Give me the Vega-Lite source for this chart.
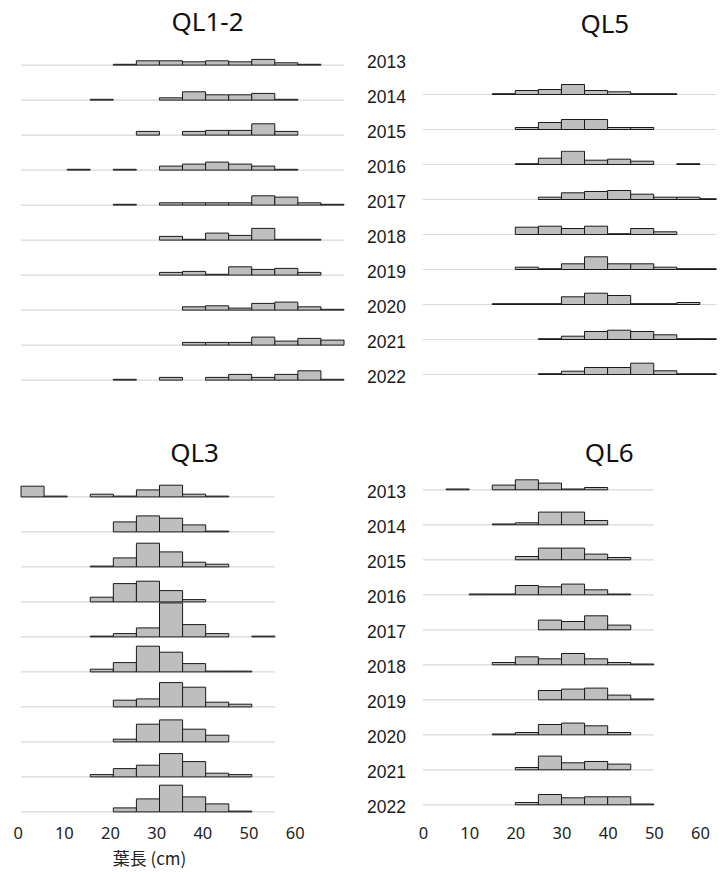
{
  "$schema": "https://vega.github.io/schema/vega-lite/v6.json",
  "padding": {"left": 12, "top": 9.5, "right": 0, "bottom": 3},
  "data": {"values": [
    {"panel":"QL1-2","year":"2013","lo":0,"hi":70},
    {"panel":"QL1-2","year":"2014","lo":0,"hi":70},
    {"panel":"QL1-2","year":"2015","lo":0,"hi":70},
    {"panel":"QL1-2","year":"2016","lo":0,"hi":70},
    {"panel":"QL1-2","year":"2017","lo":0,"hi":70},
    {"panel":"QL1-2","year":"2018","lo":0,"hi":70},
    {"panel":"QL1-2","year":"2019","lo":0,"hi":70},
    {"panel":"QL1-2","year":"2020","lo":0,"hi":70},
    {"panel":"QL1-2","year":"2021","lo":0,"hi":70},
    {"panel":"QL1-2","year":"2022","lo":0,"hi":70},
    {"panel":"QL1-2","year":"2013","bin_start":20,"bin_end":25,"freq":0.8},
    {"panel":"QL1-2","year":"2013","bin_start":25,"bin_end":30,"freq":4.3},
    {"panel":"QL1-2","year":"2013","bin_start":30,"bin_end":35,"freq":4.3},
    {"panel":"QL1-2","year":"2013","bin_start":35,"bin_end":40,"freq":3.3},
    {"panel":"QL1-2","year":"2013","bin_start":40,"bin_end":45,"freq":4.3},
    {"panel":"QL1-2","year":"2013","bin_start":45,"bin_end":50,"freq":3.3},
    {"panel":"QL1-2","year":"2013","bin_start":50,"bin_end":55,"freq":5.7},
    {"panel":"QL1-2","year":"2013","bin_start":55,"bin_end":60,"freq":2.3},
    {"panel":"QL1-2","year":"2013","bin_start":60,"bin_end":65,"freq":0.8},
    {"panel":"QL1-2","year":"2014","bin_start":15,"bin_end":20,"freq":0.8},
    {"panel":"QL1-2","year":"2014","bin_start":30,"bin_end":35,"freq":2.3},
    {"panel":"QL1-2","year":"2014","bin_start":35,"bin_end":40,"freq":8.3},
    {"panel":"QL1-2","year":"2014","bin_start":40,"bin_end":45,"freq":5.3},
    {"panel":"QL1-2","year":"2014","bin_start":45,"bin_end":50,"freq":5.3},
    {"panel":"QL1-2","year":"2014","bin_start":50,"bin_end":55,"freq":6.7},
    {"panel":"QL1-2","year":"2014","bin_start":55,"bin_end":60,"freq":0.8},
    {"panel":"QL1-2","year":"2015","bin_start":25,"bin_end":30,"freq":3.7},
    {"panel":"QL1-2","year":"2015","bin_start":35,"bin_end":40,"freq":3.7},
    {"panel":"QL1-2","year":"2015","bin_start":40,"bin_end":45,"freq":4.7},
    {"panel":"QL1-2","year":"2015","bin_start":45,"bin_end":50,"freq":4.7},
    {"panel":"QL1-2","year":"2015","bin_start":50,"bin_end":55,"freq":11.3},
    {"panel":"QL1-2","year":"2015","bin_start":55,"bin_end":60,"freq":3.7},
    {"panel":"QL1-2","year":"2016","bin_start":10,"bin_end":15,"freq":0.8},
    {"panel":"QL1-2","year":"2016","bin_start":20,"bin_end":25,"freq":0.8},
    {"panel":"QL1-2","year":"2016","bin_start":30,"bin_end":35,"freq":4},
    {"panel":"QL1-2","year":"2016","bin_start":35,"bin_end":40,"freq":6},
    {"panel":"QL1-2","year":"2016","bin_start":40,"bin_end":45,"freq":8},
    {"panel":"QL1-2","year":"2016","bin_start":45,"bin_end":50,"freq":6},
    {"panel":"QL1-2","year":"2016","bin_start":50,"bin_end":55,"freq":4},
    {"panel":"QL1-2","year":"2016","bin_start":55,"bin_end":60,"freq":0.8},
    {"panel":"QL1-2","year":"2017","bin_start":20,"bin_end":25,"freq":0.8},
    {"panel":"QL1-2","year":"2017","bin_start":30,"bin_end":35,"freq":2.3},
    {"panel":"QL1-2","year":"2017","bin_start":35,"bin_end":40,"freq":2.3},
    {"panel":"QL1-2","year":"2017","bin_start":40,"bin_end":45,"freq":2.3},
    {"panel":"QL1-2","year":"2017","bin_start":45,"bin_end":50,"freq":2.3},
    {"panel":"QL1-2","year":"2017","bin_start":50,"bin_end":55,"freq":9.3},
    {"panel":"QL1-2","year":"2017","bin_start":55,"bin_end":60,"freq":8},
    {"panel":"QL1-2","year":"2017","bin_start":60,"bin_end":65,"freq":2.3},
    {"panel":"QL1-2","year":"2017","bin_start":65,"bin_end":70,"freq":0.8},
    {"panel":"QL1-2","year":"2018","bin_start":30,"bin_end":35,"freq":3.7},
    {"panel":"QL1-2","year":"2018","bin_start":35,"bin_end":40,"freq":0.8},
    {"panel":"QL1-2","year":"2018","bin_start":40,"bin_end":45,"freq":7},
    {"panel":"QL1-2","year":"2018","bin_start":45,"bin_end":50,"freq":4.7},
    {"panel":"QL1-2","year":"2018","bin_start":50,"bin_end":55,"freq":11.7},
    {"panel":"QL1-2","year":"2018","bin_start":55,"bin_end":60,"freq":0.8},
    {"panel":"QL1-2","year":"2018","bin_start":60,"bin_end":65,"freq":0.8},
    {"panel":"QL1-2","year":"2019","bin_start":30,"bin_end":35,"freq":2.7},
    {"panel":"QL1-2","year":"2019","bin_start":35,"bin_end":40,"freq":3.7},
    {"panel":"QL1-2","year":"2019","bin_start":40,"bin_end":45,"freq":0.8},
    {"panel":"QL1-2","year":"2019","bin_start":45,"bin_end":50,"freq":8.3},
    {"panel":"QL1-2","year":"2019","bin_start":50,"bin_end":55,"freq":5.7},
    {"panel":"QL1-2","year":"2019","bin_start":55,"bin_end":60,"freq":6.7},
    {"panel":"QL1-2","year":"2019","bin_start":60,"bin_end":65,"freq":2.7},
    {"panel":"QL1-2","year":"2020","bin_start":35,"bin_end":40,"freq":3.3},
    {"panel":"QL1-2","year":"2020","bin_start":40,"bin_end":45,"freq":4.3},
    {"panel":"QL1-2","year":"2020","bin_start":45,"bin_end":50,"freq":2},
    {"panel":"QL1-2","year":"2020","bin_start":50,"bin_end":55,"freq":6.7},
    {"panel":"QL1-2","year":"2020","bin_start":55,"bin_end":60,"freq":8},
    {"panel":"QL1-2","year":"2020","bin_start":60,"bin_end":65,"freq":3.3},
    {"panel":"QL1-2","year":"2020","bin_start":65,"bin_end":70,"freq":0.8},
    {"panel":"QL1-2","year":"2021","bin_start":35,"bin_end":40,"freq":2.7},
    {"panel":"QL1-2","year":"2021","bin_start":40,"bin_end":45,"freq":2.7},
    {"panel":"QL1-2","year":"2021","bin_start":45,"bin_end":50,"freq":2.7},
    {"panel":"QL1-2","year":"2021","bin_start":50,"bin_end":55,"freq":8},
    {"panel":"QL1-2","year":"2021","bin_start":55,"bin_end":60,"freq":4},
    {"panel":"QL1-2","year":"2021","bin_start":60,"bin_end":65,"freq":6.7},
    {"panel":"QL1-2","year":"2021","bin_start":65,"bin_end":70,"freq":5},
    {"panel":"QL1-2","year":"2022","bin_start":20,"bin_end":25,"freq":0.8},
    {"panel":"QL1-2","year":"2022","bin_start":30,"bin_end":35,"freq":2.7},
    {"panel":"QL1-2","year":"2022","bin_start":40,"bin_end":45,"freq":2.7},
    {"panel":"QL1-2","year":"2022","bin_start":45,"bin_end":50,"freq":5.7},
    {"panel":"QL1-2","year":"2022","bin_start":50,"bin_end":55,"freq":2.7},
    {"panel":"QL1-2","year":"2022","bin_start":55,"bin_end":60,"freq":5.7},
    {"panel":"QL1-2","year":"2022","bin_start":60,"bin_end":65,"freq":9.3},
    {"panel":"QL1-2","year":"2022","bin_start":65,"bin_end":70,"freq":0.8},

    {"panel":"QL5","year":"2013"},
    {"panel":"QL5","year":"2014","lo":0,"hi":70},
    {"panel":"QL5","year":"2015","lo":0,"hi":70},
    {"panel":"QL5","year":"2016","lo":0,"hi":70},
    {"panel":"QL5","year":"2017","lo":0,"hi":70},
    {"panel":"QL5","year":"2018","lo":0,"hi":70},
    {"panel":"QL5","year":"2019","lo":0,"hi":70},
    {"panel":"QL5","year":"2020","lo":0,"hi":70},
    {"panel":"QL5","year":"2021","lo":0,"hi":70},
    {"panel":"QL5","year":"2022","lo":0,"hi":70},
    {"panel":"QL5","year":"2014","bin_start":15,"bin_end":20,"freq":0.8},
    {"panel":"QL5","year":"2014","bin_start":20,"bin_end":25,"freq":4},
    {"panel":"QL5","year":"2014","bin_start":25,"bin_end":30,"freq":5},
    {"panel":"QL5","year":"2014","bin_start":30,"bin_end":35,"freq":10},
    {"panel":"QL5","year":"2014","bin_start":35,"bin_end":40,"freq":4},
    {"panel":"QL5","year":"2014","bin_start":40,"bin_end":45,"freq":2.7},
    {"panel":"QL5","year":"2014","bin_start":45,"bin_end":50,"freq":0.8},
    {"panel":"QL5","year":"2014","bin_start":50,"bin_end":55,"freq":0.8},
    {"panel":"QL5","year":"2015","bin_start":20,"bin_end":25,"freq":2},
    {"panel":"QL5","year":"2015","bin_start":25,"bin_end":30,"freq":7},
    {"panel":"QL5","year":"2015","bin_start":30,"bin_end":35,"freq":10},
    {"panel":"QL5","year":"2015","bin_start":35,"bin_end":40,"freq":10},
    {"panel":"QL5","year":"2015","bin_start":40,"bin_end":45,"freq":2},
    {"panel":"QL5","year":"2015","bin_start":45,"bin_end":50,"freq":2},
    {"panel":"QL5","year":"2016","bin_start":20,"bin_end":25,"freq":0.8},
    {"panel":"QL5","year":"2016","bin_start":25,"bin_end":30,"freq":6.3},
    {"panel":"QL5","year":"2016","bin_start":30,"bin_end":35,"freq":13.3},
    {"panel":"QL5","year":"2016","bin_start":35,"bin_end":40,"freq":4.3},
    {"panel":"QL5","year":"2016","bin_start":40,"bin_end":45,"freq":5.3},
    {"panel":"QL5","year":"2016","bin_start":45,"bin_end":50,"freq":3.3},
    {"panel":"QL5","year":"2016","bin_start":55,"bin_end":60,"freq":0.8},
    {"panel":"QL5","year":"2017","bin_start":25,"bin_end":30,"freq":2.3},
    {"panel":"QL5","year":"2017","bin_start":30,"bin_end":35,"freq":6.7},
    {"panel":"QL5","year":"2017","bin_start":35,"bin_end":40,"freq":8},
    {"panel":"QL5","year":"2017","bin_start":40,"bin_end":45,"freq":9},
    {"panel":"QL5","year":"2017","bin_start":45,"bin_end":50,"freq":5.3},
    {"panel":"QL5","year":"2017","bin_start":50,"bin_end":55,"freq":2.3},
    {"panel":"QL5","year":"2017","bin_start":55,"bin_end":60,"freq":2.3},
    {"panel":"QL5","year":"2017","bin_start":60,"bin_end":65,"freq":0.8},
    {"panel":"QL5","year":"2018","bin_start":20,"bin_end":25,"freq":7.3},
    {"panel":"QL5","year":"2018","bin_start":25,"bin_end":30,"freq":8.3},
    {"panel":"QL5","year":"2018","bin_start":30,"bin_end":35,"freq":6},
    {"panel":"QL5","year":"2018","bin_start":35,"bin_end":40,"freq":8.3},
    {"panel":"QL5","year":"2018","bin_start":40,"bin_end":45,"freq":0.8},
    {"panel":"QL5","year":"2018","bin_start":45,"bin_end":50,"freq":6},
    {"panel":"QL5","year":"2018","bin_start":50,"bin_end":55,"freq":2.7},
    {"panel":"QL5","year":"2019","bin_start":20,"bin_end":25,"freq":2.3},
    {"panel":"QL5","year":"2019","bin_start":25,"bin_end":30,"freq":0.8},
    {"panel":"QL5","year":"2019","bin_start":30,"bin_end":35,"freq":5.7},
    {"panel":"QL5","year":"2019","bin_start":35,"bin_end":40,"freq":12.7},
    {"panel":"QL5","year":"2019","bin_start":40,"bin_end":45,"freq":5.7},
    {"panel":"QL5","year":"2019","bin_start":45,"bin_end":50,"freq":5.7},
    {"panel":"QL5","year":"2019","bin_start":50,"bin_end":55,"freq":2.3},
    {"panel":"QL5","year":"2019","bin_start":55,"bin_end":60,"freq":0.8},
    {"panel":"QL5","year":"2019","bin_start":60,"bin_end":65,"freq":0.8},
    {"panel":"QL5","year":"2020","bin_start":15,"bin_end":20,"freq":0.8},
    {"panel":"QL5","year":"2020","bin_start":20,"bin_end":25,"freq":0.8},
    {"panel":"QL5","year":"2020","bin_start":25,"bin_end":30,"freq":0.8},
    {"panel":"QL5","year":"2020","bin_start":30,"bin_end":35,"freq":7.7},
    {"panel":"QL5","year":"2020","bin_start":35,"bin_end":40,"freq":11.3},
    {"panel":"QL5","year":"2020","bin_start":40,"bin_end":45,"freq":9},
    {"panel":"QL5","year":"2020","bin_start":45,"bin_end":50,"freq":0.8},
    {"panel":"QL5","year":"2020","bin_start":50,"bin_end":55,"freq":0.8},
    {"panel":"QL5","year":"2020","bin_start":55,"bin_end":60,"freq":2},
    {"panel":"QL5","year":"2021","bin_start":25,"bin_end":30,"freq":0.8},
    {"panel":"QL5","year":"2021","bin_start":30,"bin_end":35,"freq":3.3},
    {"panel":"QL5","year":"2021","bin_start":35,"bin_end":40,"freq":8},
    {"panel":"QL5","year":"2021","bin_start":40,"bin_end":45,"freq":9.3},
    {"panel":"QL5","year":"2021","bin_start":45,"bin_end":50,"freq":8},
    {"panel":"QL5","year":"2021","bin_start":50,"bin_end":55,"freq":4.7},
    {"panel":"QL5","year":"2021","bin_start":55,"bin_end":60,"freq":0.8},
    {"panel":"QL5","year":"2021","bin_start":60,"bin_end":65,"freq":0.8},
    {"panel":"QL5","year":"2022","bin_start":25,"bin_end":30,"freq":0.8},
    {"panel":"QL5","year":"2022","bin_start":30,"bin_end":35,"freq":3.3},
    {"panel":"QL5","year":"2022","bin_start":35,"bin_end":40,"freq":7},
    {"panel":"QL5","year":"2022","bin_start":40,"bin_end":45,"freq":7},
    {"panel":"QL5","year":"2022","bin_start":45,"bin_end":50,"freq":11.3},
    {"panel":"QL5","year":"2022","bin_start":50,"bin_end":55,"freq":3.7},
    {"panel":"QL5","year":"2022","bin_start":55,"bin_end":60,"freq":0.8},
    {"panel":"QL5","year":"2022","bin_start":60,"bin_end":65,"freq":0.8},

    {"panel":"QL3","year":"2013","lo":0,"hi":55},
    {"panel":"QL3","year":"2014","lo":0,"hi":55},
    {"panel":"QL3","year":"2015","lo":0,"hi":55},
    {"panel":"QL3","year":"2016","lo":0,"hi":55},
    {"panel":"QL3","year":"2017","lo":0,"hi":55},
    {"panel":"QL3","year":"2018","lo":0,"hi":55},
    {"panel":"QL3","year":"2019","lo":0,"hi":55},
    {"panel":"QL3","year":"2020","lo":0,"hi":55},
    {"panel":"QL3","year":"2021","lo":0,"hi":55},
    {"panel":"QL3","year":"2022","lo":0,"hi":55},
    {"panel":"QL3","year":"2013","bin_start":0,"bin_end":5,"freq":10.7},
    {"panel":"QL3","year":"2013","bin_start":5,"bin_end":10,"freq":0.8},
    {"panel":"QL3","year":"2013","bin_start":15,"bin_end":20,"freq":2.7},
    {"panel":"QL3","year":"2013","bin_start":20,"bin_end":25,"freq":0.8},
    {"panel":"QL3","year":"2013","bin_start":25,"bin_end":30,"freq":7},
    {"panel":"QL3","year":"2013","bin_start":30,"bin_end":35,"freq":11.7},
    {"panel":"QL3","year":"2013","bin_start":35,"bin_end":40,"freq":2.7},
    {"panel":"QL3","year":"2013","bin_start":40,"bin_end":45,"freq":0.8},
    {"panel":"QL3","year":"2014","bin_start":20,"bin_end":25,"freq":10},
    {"panel":"QL3","year":"2014","bin_start":25,"bin_end":30,"freq":16},
    {"panel":"QL3","year":"2014","bin_start":30,"bin_end":35,"freq":13.7},
    {"panel":"QL3","year":"2014","bin_start":35,"bin_end":40,"freq":7},
    {"panel":"QL3","year":"2014","bin_start":40,"bin_end":45,"freq":0.8},
    {"panel":"QL3","year":"2015","bin_start":15,"bin_end":20,"freq":0.8},
    {"panel":"QL3","year":"2015","bin_start":20,"bin_end":25,"freq":9},
    {"panel":"QL3","year":"2015","bin_start":25,"bin_end":30,"freq":23.7},
    {"panel":"QL3","year":"2015","bin_start":30,"bin_end":35,"freq":15},
    {"panel":"QL3","year":"2015","bin_start":35,"bin_end":40,"freq":4.7},
    {"panel":"QL3","year":"2015","bin_start":40,"bin_end":45,"freq":2.7},
    {"panel":"QL3","year":"2016","bin_start":15,"bin_end":20,"freq":4.7},
    {"panel":"QL3","year":"2016","bin_start":20,"bin_end":25,"freq":18.3},
    {"panel":"QL3","year":"2016","bin_start":25,"bin_end":30,"freq":20.7},
    {"panel":"QL3","year":"2016","bin_start":30,"bin_end":35,"freq":11.3},
    {"panel":"QL3","year":"2016","bin_start":35,"bin_end":40,"freq":2.3},
    {"panel":"QL3","year":"2017","bin_start":15,"bin_end":20,"freq":0.8},
    {"panel":"QL3","year":"2017","bin_start":20,"bin_end":25,"freq":3.3},
    {"panel":"QL3","year":"2017","bin_start":25,"bin_end":30,"freq":9},
    {"panel":"QL3","year":"2017","bin_start":30,"bin_end":35,"freq":34},
    {"panel":"QL3","year":"2017","bin_start":35,"bin_end":40,"freq":12.3},
    {"panel":"QL3","year":"2017","bin_start":40,"bin_end":45,"freq":3.3},
    {"panel":"QL3","year":"2017","bin_start":50,"bin_end":55,"freq":0.8},
    {"panel":"QL3","year":"2018","bin_start":15,"bin_end":20,"freq":2.7},
    {"panel":"QL3","year":"2018","bin_start":20,"bin_end":25,"freq":9.3},
    {"panel":"QL3","year":"2018","bin_start":25,"bin_end":30,"freq":25.7},
    {"panel":"QL3","year":"2018","bin_start":30,"bin_end":35,"freq":19.7},
    {"panel":"QL3","year":"2018","bin_start":35,"bin_end":40,"freq":8.3},
    {"panel":"QL3","year":"2018","bin_start":40,"bin_end":45,"freq":0.8},
    {"panel":"QL3","year":"2018","bin_start":45,"bin_end":50,"freq":0.8},
    {"panel":"QL3","year":"2019","bin_start":20,"bin_end":25,"freq":6.7},
    {"panel":"QL3","year":"2019","bin_start":25,"bin_end":30,"freq":8},
    {"panel":"QL3","year":"2019","bin_start":30,"bin_end":35,"freq":24.3},
    {"panel":"QL3","year":"2019","bin_start":35,"bin_end":40,"freq":19.7},
    {"panel":"QL3","year":"2019","bin_start":40,"bin_end":45,"freq":4.7},
    {"panel":"QL3","year":"2019","bin_start":45,"bin_end":50,"freq":2.7},
    {"panel":"QL3","year":"2020","bin_start":20,"bin_end":25,"freq":2.7},
    {"panel":"QL3","year":"2020","bin_start":25,"bin_end":30,"freq":17.7},
    {"panel":"QL3","year":"2020","bin_start":30,"bin_end":35,"freq":22},
    {"panel":"QL3","year":"2020","bin_start":35,"bin_end":40,"freq":12.7},
    {"panel":"QL3","year":"2020","bin_start":40,"bin_end":45,"freq":6.7},
    {"panel":"QL3","year":"2021","bin_start":15,"bin_end":20,"freq":2.3},
    {"panel":"QL3","year":"2021","bin_start":20,"bin_end":25,"freq":8.3},
    {"panel":"QL3","year":"2021","bin_start":25,"bin_end":30,"freq":11.7},
    {"panel":"QL3","year":"2021","bin_start":30,"bin_end":35,"freq":23.3},
    {"panel":"QL3","year":"2021","bin_start":35,"bin_end":40,"freq":15.3},
    {"panel":"QL3","year":"2021","bin_start":40,"bin_end":45,"freq":3.7},
    {"panel":"QL3","year":"2021","bin_start":45,"bin_end":50,"freq":2.3},
    {"panel":"QL3","year":"2022","bin_start":20,"bin_end":25,"freq":4},
    {"panel":"QL3","year":"2022","bin_start":25,"bin_end":30,"freq":13},
    {"panel":"QL3","year":"2022","bin_start":30,"bin_end":35,"freq":26.7},
    {"panel":"QL3","year":"2022","bin_start":35,"bin_end":40,"freq":15},
    {"panel":"QL3","year":"2022","bin_start":40,"bin_end":45,"freq":8},
    {"panel":"QL3","year":"2022","bin_start":45,"bin_end":50,"freq":0.8},

    {"panel":"QL6","year":"2013","lo":0,"hi":50},
    {"panel":"QL6","year":"2014","lo":0,"hi":50},
    {"panel":"QL6","year":"2015","lo":0,"hi":50},
    {"panel":"QL6","year":"2016","lo":0,"hi":50},
    {"panel":"QL6","year":"2017","lo":0,"hi":50},
    {"panel":"QL6","year":"2018","lo":0,"hi":50},
    {"panel":"QL6","year":"2019","lo":0,"hi":50},
    {"panel":"QL6","year":"2020","lo":0,"hi":50},
    {"panel":"QL6","year":"2021","lo":0,"hi":50},
    {"panel":"QL6","year":"2022","lo":0,"hi":50},
    {"panel":"QL6","year":"2013","bin_start":5,"bin_end":10,"freq":0.8},
    {"panel":"QL6","year":"2013","bin_start":15,"bin_end":20,"freq":4.7},
    {"panel":"QL6","year":"2013","bin_start":20,"bin_end":25,"freq":10},
    {"panel":"QL6","year":"2013","bin_start":25,"bin_end":30,"freq":6.7},
    {"panel":"QL6","year":"2013","bin_start":30,"bin_end":35,"freq":0.8},
    {"panel":"QL6","year":"2013","bin_start":35,"bin_end":40,"freq":2.3},
    {"panel":"QL6","year":"2014","bin_start":15,"bin_end":20,"freq":0.8},
    {"panel":"QL6","year":"2014","bin_start":20,"bin_end":25,"freq":2},
    {"panel":"QL6","year":"2014","bin_start":25,"bin_end":30,"freq":12.7},
    {"panel":"QL6","year":"2014","bin_start":30,"bin_end":35,"freq":12.7},
    {"panel":"QL6","year":"2014","bin_start":35,"bin_end":40,"freq":4.3},
    {"panel":"QL6","year":"2015","bin_start":20,"bin_end":25,"freq":3.3},
    {"panel":"QL6","year":"2015","bin_start":25,"bin_end":30,"freq":11.7},
    {"panel":"QL6","year":"2015","bin_start":30,"bin_end":35,"freq":11.7},
    {"panel":"QL6","year":"2015","bin_start":35,"bin_end":40,"freq":5.7},
    {"panel":"QL6","year":"2015","bin_start":40,"bin_end":45,"freq":2.3},
    {"panel":"QL6","year":"2016","bin_start":10,"bin_end":15,"freq":0.8},
    {"panel":"QL6","year":"2016","bin_start":15,"bin_end":20,"freq":0.8},
    {"panel":"QL6","year":"2016","bin_start":20,"bin_end":25,"freq":9.3},
    {"panel":"QL6","year":"2016","bin_start":25,"bin_end":30,"freq":8},
    {"panel":"QL6","year":"2016","bin_start":30,"bin_end":35,"freq":10.7},
    {"panel":"QL6","year":"2016","bin_start":35,"bin_end":40,"freq":5},
    {"panel":"QL6","year":"2016","bin_start":40,"bin_end":45,"freq":0.8},
    {"panel":"QL6","year":"2017","bin_start":25,"bin_end":30,"freq":9.7},
    {"panel":"QL6","year":"2017","bin_start":30,"bin_end":35,"freq":8.3},
    {"panel":"QL6","year":"2017","bin_start":35,"bin_end":40,"freq":14},
    {"panel":"QL6","year":"2017","bin_start":40,"bin_end":45,"freq":4.7},
    {"panel":"QL6","year":"2018","bin_start":15,"bin_end":20,"freq":2.3},
    {"panel":"QL6","year":"2018","bin_start":20,"bin_end":25,"freq":8},
    {"panel":"QL6","year":"2018","bin_start":25,"bin_end":30,"freq":6},
    {"panel":"QL6","year":"2018","bin_start":30,"bin_end":35,"freq":11.3},
    {"panel":"QL6","year":"2018","bin_start":35,"bin_end":40,"freq":6},
    {"panel":"QL6","year":"2018","bin_start":40,"bin_end":45,"freq":2.3},
    {"panel":"QL6","year":"2018","bin_start":45,"bin_end":50,"freq":0.8},
    {"panel":"QL6","year":"2019","bin_start":25,"bin_end":30,"freq":9.3},
    {"panel":"QL6","year":"2019","bin_start":30,"bin_end":35,"freq":10.7},
    {"panel":"QL6","year":"2019","bin_start":35,"bin_end":40,"freq":11.7},
    {"panel":"QL6","year":"2019","bin_start":40,"bin_end":45,"freq":4.7},
    {"panel":"QL6","year":"2019","bin_start":45,"bin_end":50,"freq":0.8},
    {"panel":"QL6","year":"2020","bin_start":15,"bin_end":20,"freq":0.8},
    {"panel":"QL6","year":"2020","bin_start":20,"bin_end":25,"freq":2.3},
    {"panel":"QL6","year":"2020","bin_start":25,"bin_end":30,"freq":10.3},
    {"panel":"QL6","year":"2020","bin_start":30,"bin_end":35,"freq":11.7},
    {"panel":"QL6","year":"2020","bin_start":35,"bin_end":40,"freq":9},
    {"panel":"QL6","year":"2020","bin_start":40,"bin_end":45,"freq":2.3},
    {"panel":"QL6","year":"2021","bin_start":20,"bin_end":25,"freq":2.3},
    {"panel":"QL6","year":"2021","bin_start":25,"bin_end":30,"freq":13.7},
    {"panel":"QL6","year":"2021","bin_start":30,"bin_end":35,"freq":7},
    {"panel":"QL6","year":"2021","bin_start":35,"bin_end":40,"freq":8.3},
    {"panel":"QL6","year":"2021","bin_start":40,"bin_end":45,"freq":5.7},
    {"panel":"QL6","year":"2022","bin_start":20,"bin_end":25,"freq":2.3},
    {"panel":"QL6","year":"2022","bin_start":25,"bin_end":30,"freq":10.3},
    {"panel":"QL6","year":"2022","bin_start":30,"bin_end":35,"freq":7},
    {"panel":"QL6","year":"2022","bin_start":35,"bin_end":40,"freq":8},
    {"panel":"QL6","year":"2022","bin_start":40,"bin_end":45,"freq":8},
    {"panel":"QL6","year":"2022","bin_start":45,"bin_end":50,"freq":0.8}
  ]},
  "spacing": 22,
  "hconcat": [
    {
      "spacing": 45.8,
      "vconcat": [
        {
          "title": {"text": "QL1-2", "offset": 9.2, "dx": 25},
          "transform": [{"filter": "datum.panel == 'QL1-2'"}],
          "facet": {"row": {"field": "year", "type": "ordinal", "header": {"labels": false, "title": null}}},
          "spacing": {"row": 0},
          "bounds": "flush",
          "spec": {
            "width": 323, "height": 34.6,
            "layer": [
              {"transform": [{"filter": "isValid(datum.lo)"}],
               "mark": {"type": "rule", "color": "#d9d9d9", "strokeWidth": 1.2},
               "encoding": {
                 "x": {"field": "lo", "type": "quantitative", "scale": {"domain": [0, 70], "nice": false, "zero": false}, "axis": null},
                 "x2": {"field": "hi"},
                 "y": {"datum": 0, "type": "quantitative", "scale": {"domain": [-15, 19.6], "nice": false, "zero": false}, "axis": null}}},
              {"transform": [{"filter": "isValid(datum.freq)"}],
               "mark": {"type": "rect", "fill": "#bebebe", "stroke": "#1a1a1a", "strokeWidth": 1},
               "encoding": {
                 "x": {"field": "bin_start", "type": "quantitative"},
                 "x2": {"field": "bin_end"},
                 "y": {"field": "freq", "type": "quantitative"},
                 "y2": {"datum": 0}}}
            ]
          }
        },
        {
          "title": {"text": "QL3", "offset": 9.9, "dx": 36},
          "transform": [{"filter": "datum.panel == 'QL3'"}],
          "facet": {"row": {"field": "year", "type": "ordinal", "header": {"labels": false, "title": null}}},
          "spacing": {"row": 0},
          "bounds": "flush",
          "spec": {
            "width": 277, "height": 34.6,
            "layer": [
              {"transform": [{"filter": "isValid(datum.lo)"}],
               "mark": {"type": "rule", "color": "#d9d9d9", "strokeWidth": 1.2},
               "encoding": {
                 "x": {"field": "lo", "type": "quantitative", "scale": {"domain": [0, 60], "nice": false, "zero": false},
                       "axis": {"values": [0, 10, 20, 30, 40, 50, 60], "grid": false, "domain": false, "ticks": false, "tickSize": 0, "labelPadding": -1.9, "labelOffset": -3.3, "labelFlush": false, "labelFont": "Noto Sans", "labelFontSize": 16.5, "labelColor": "#222", "title": "葉長 (cm)", "titleX": 128, "titleFont": "Noto Sans CJK JP", "titleFontSize": 17, "titleFontWeight": "normal", "titleColor": "#222", "titlePadding": 10}},
                 "x2": {"field": "hi"},
                 "y": {"datum": 0, "type": "quantitative", "scale": {"domain": [-15, 19.6], "nice": false, "zero": false}, "axis": null}}},
              {"transform": [{"filter": "isValid(datum.freq)"}],
               "mark": {"type": "rect", "fill": "#bebebe", "stroke": "#1a1a1a", "strokeWidth": 1},
               "encoding": {
                 "x": {"field": "bin_start", "type": "quantitative"},
                 "x2": {"field": "bin_end"},
                 "y": {"field": "freq", "type": "quantitative"},
                 "y2": {"datum": 0}}}
            ]
          }
        }
      ]
    },
    {
      "spacing": 44.3,
      "vconcat": [
        {
          "title": {"text": "QL5", "offset": 7.2, "dx": 63},
          "transform": [{"filter": "datum.panel == 'QL5'"}],
          "facet": {"row": {"field": "year", "type": "ordinal", "header": {"title": null}}},
          "spacing": {"row": 0},
          "bounds": "flush",
          "spec": {
            "width": 293.5, "height": 34.6,
            "layer": [
              {"transform": [{"filter": "isValid(datum.lo)"}],
               "mark": {"type": "rule", "color": "#d9d9d9", "strokeWidth": 1.2, "clip": true},
               "encoding": {
                 "x": {"field": "lo", "type": "quantitative", "scale": {"domain": [0, 63.6], "nice": false, "zero": false}, "axis": null},
                 "x2": {"field": "hi"},
                 "y": {"datum": 0, "type": "quantitative", "scale": {"domain": [-20.6, 14], "nice": false, "zero": false}, "axis": null}}},
              {"transform": [{"filter": "isValid(datum.freq)"}],
               "mark": {"type": "rect", "fill": "#bebebe", "stroke": "#1a1a1a", "strokeWidth": 1, "clip": true},
               "encoding": {
                 "x": {"field": "bin_start", "type": "quantitative"},
                 "x2": {"field": "bin_end"},
                 "y": {"field": "freq", "type": "quantitative"},
                 "y2": {"datum": 0}}}
            ]
          }
        },
        {
          "title": {"text": "QL6", "offset": 9.1, "dx": 71},
          "transform": [{"filter": "datum.panel == 'QL6'"}],
          "facet": {"row": {"field": "year", "type": "ordinal", "header": {"title": null}}},
          "spacing": {"row": 0},
          "bounds": "flush",
          "spec": {
            "width": 277, "height": 34.6,
            "layer": [
              {"transform": [{"filter": "isValid(datum.lo)"}],
               "mark": {"type": "rule", "color": "#d9d9d9", "strokeWidth": 1.2},
               "encoding": {
                 "x": {"field": "lo", "type": "quantitative", "scale": {"domain": [0, 60], "nice": false, "zero": false},
                       "axis": {"values": [0, 10, 20, 30, 40, 50, 60], "grid": false, "domain": false, "ticks": false, "tickSize": 0, "labelPadding": -0.1, "labelFlush": false, "labelFont": "Noto Sans", "labelFontSize": 16.5, "labelColor": "#222", "title": null}},
                 "x2": {"field": "hi"},
                 "y": {"datum": 0, "type": "quantitative", "scale": {"domain": [-20.6, 14], "nice": false, "zero": false}, "axis": null}}},
              {"transform": [{"filter": "isValid(datum.freq)"}],
               "mark": {"type": "rect", "fill": "#bebebe", "stroke": "#1a1a1a", "strokeWidth": 1},
               "encoding": {
                 "x": {"field": "bin_start", "type": "quantitative"},
                 "x2": {"field": "bin_end"},
                 "y": {"field": "freq", "type": "quantitative"},
                 "y2": {"datum": 0}}}
            ]
          }
        }
      ]
    }
  ],
  "config": {
    "view": {"stroke": null},
    "title": {"font": "Noto Sans", "fontSize": 26, "fontWeight": "normal", "color": "#111", "anchor": "middle"},
    "header": {"labelAngle": 0, "labelAlign": "left", "labelBaseline": "middle", "labelFont": "Liberation Sans", "labelFontSize": 17.5, "labelColor": "#1a1a1a", "labelPadding": 17}
  }
}
